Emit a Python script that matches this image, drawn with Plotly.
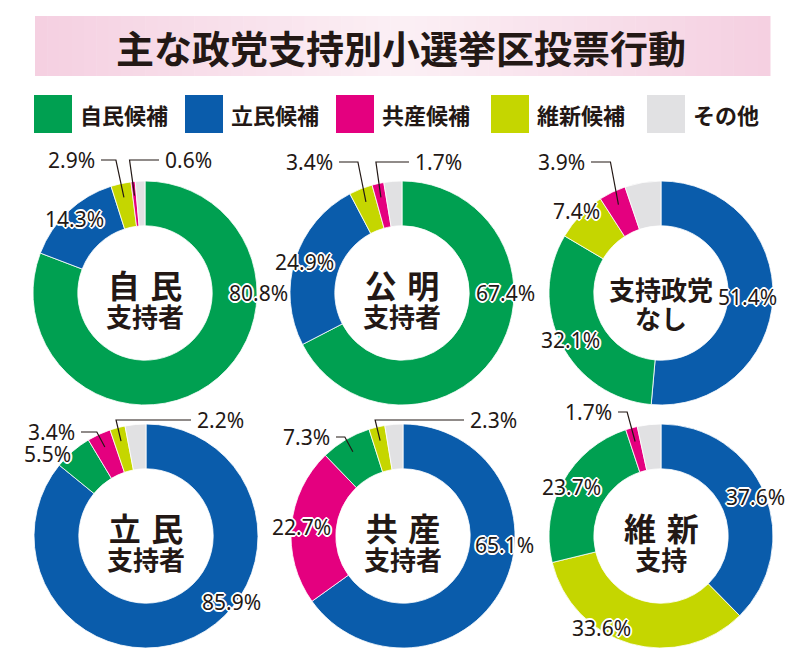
import math
import plotly.graph_objects as go

W, H = 800, 651

title = "主な政党支持別小選挙区投票行動"
parties = ["自民候補", "立民候補", "共産候補", "維新候補", "その他"]
colors = ["#00a051", "#0a5cab", "#e4007f", "#c5d600", "#e1e1e3"]

# values per supporter group, in the order of `parties`
jimin_supporters = [80.8, 14.3, 0.6, 2.9, 1.4]
komei_supporters = [67.4, 24.9, 1.7, 3.4, 2.6]
no_party = [32.1, 51.4, 3.9, 7.4, 5.2]
rikken_supporters = [5.5, 85.9, 3.4, 2.2, 3.0]
kyosan_supporters = [7.3, 65.1, 22.7, 2.3, 2.6]
ishin_supporters = [23.7, 37.6, 1.7, 33.6, 3.4]

groups = [jimin_supporters, komei_supporters, no_party,
          rikken_supporters, kyosan_supporters, ishin_supporters]
group_top = ["自\u2004民", "公\u2004明", "支持政党", "立\u2004民", "共\u2004産", "維\u2004新"]
group_bottom = ["支持者", "支持者", "なし", "支持者", "支持者", "支持"]

# ---- layout (pixels) ----
centers = [(145, 293), (402, 293), (661, 293), (146, 536), (403, 536), (661, 536)]
R = 112
HOLE = 0.6
LABEL_R = 102
# (angle, radius) tweaks for ring labels; None = computed
label_tweak = {(0, 0): (90, 113), (1, 0): (90, 104), (2, 1): (None, 87),
               (2, 3): (None, 118), (3, 1): (128, 108), (3, 0): (310, 128),
               (4, 1): (95, 102), (5, 3): (213, 110)}
# small slices labelled above the ring: text edge x, y, side of text
leaders = {(0, 3): (97, 160, "L"), (0, 2): (163, 160, "R"),
           (1, 3): (335, 162, "L"), (1, 2): (413, 162, "R"),
           (2, 2): (587, 162, "L"),
           (3, 2): (77, 432, "L"), (3, 3): (195, 420, "R"),
           (4, 0): (332, 437, "L"), (4, 3): (468, 420, "R"),
           (5, 2): (614, 412, "L")}

PCT_FONT = dict(family="Noto Sans, DejaVu Sans", size=21, color="#231815",
                shadow="2px 0 0 #fff, -2px 0 0 #fff, 0 2px 0 #fff, 0 -2px 0 #fff, "
                       "1px 1px 0 #fff, -1px -1px 0 #fff, 1px -1px 0 #fff, -1px 1px 0 #fff")
JP = "Noto Sans CJK JP"


def px(x, y):
    return x / W, 1 - y / H


def note(text, x, y, font, xanchor="center"):
    a, b = px(x, y)
    return dict(text=text, x=a, y=b, xref="paper", yref="paper", showarrow=False,
                xanchor=xanchor, yanchor="middle", font=font)


fig = go.Figure()
annotations = []
shapes = []

# title box with soft pink gradient
n_strips = 60
x0, x1, y0, y1 = 35, 770, 16, 76
for i in range(n_strips):
    t = abs((i + 0.5) / n_strips - 0.5) * 2
    r_, g_, b_ = (int(252 - 7 * t), int(240 - 32 * t), int(245 - 20 * t))
    a, b = px(x0 + (x1 - x0) * i / n_strips, y0)
    c, d = px(x0 + (x1 - x0) * (i + 1) / n_strips + 0.5, y1)
    shapes.append(dict(type="rect", xref="paper", yref="paper", x0=a, x1=c, y0=d, y1=b,
                       fillcolor=f"rgb({r_},{g_},{b_})", line_width=0, layer="below"))
annotations.append(note(title, 401, 47,
                        dict(family=JP, size=38, color="#231815", weight="bold")))

# legend
legend_x = [34, 185, 336, 491, 647]
for name, col, lx in zip(parties, colors, legend_x):
    a, b = px(lx, 95)
    c, d = px(lx + 38, 133)
    shapes.append(dict(type="rect", xref="paper", yref="paper", x0=a, x1=c, y0=d, y1=b,
                       fillcolor=col, line_width=0))
    annotations.append(note(name, lx + 44, 114,
                            dict(family=JP, size=22, color="#231815", weight="bold"),
                            xanchor="left"))

for gi, (vals, (cx, cy)) in enumerate(zip(groups, centers)):
    order = sorted(range(4), key=lambda k: -vals[k]) + [4]
    fig.add_trace(go.Pie(
        labels=[parties[k] for k in order],
        values=[vals[k] for k in order],
        marker=dict(colors=[colors[k] for k in order], line=dict(color="white", width=0.8)),
        sort=False, direction="clockwise", hole=HOLE, textinfo="none",
        showlegend=False,
        domain=dict(x=[(cx - R) / W, (cx + R) / W], y=[1 - (cy + R) / H, 1 - (cy - R) / H]),
    ))

    # percentage labels
    total = sum(vals)
    cum = 0
    for k in order:
        v = vals[k]
        mid = (cum + v / 2) / total * 360
        cum += v
        if k == 4:
            continue
        text = f"{v:.1f}%"
        if (gi, k) in leaders:
            lx, ly, side = leaders[(gi, k)]
            pxx = cx + 98 * math.sin(math.radians(mid))
            pyy = cy - 98 * math.cos(math.radians(mid))
            if side == "L":
                start, corner = lx + 4, pxx - 8
                anchor = "right"
            else:
                start, corner = lx - 4, pxx - 5
                anchor = "left"
            p0, p1, p2 = px(start, ly), px(corner, ly), px(pxx, pyy)
            shapes.append(dict(type="path", xref="paper", yref="paper",
                               path=f"M {p0[0]},{p0[1]} L {p1[0]},{p1[1]} L {p2[0]},{p2[1]}",
                               line=dict(color="#231815", width=1.2)))
            annotations.append(note(text, lx, ly, PCT_FONT, xanchor=anchor))
        else:
            ang, rad = label_tweak.get((gi, k), (None, None))
            ang = mid if ang is None else ang
            rad = LABEL_R if rad is None else rad
            lx = cx + rad * math.sin(math.radians(ang))
            ly = cy - rad * math.cos(math.radians(ang))
            annotations.append(note(text, lx, ly, PCT_FONT))

    # centre caption (two lines, tight line spacing from the small base size)
    top_size = 32 if gi != 2 else 26
    caption = (f"<span style='font-size:{top_size}px'>{group_top[gi]}</span><br>"
               f"<span style='font-size:26px'>{group_bottom[gi]}</span>")
    annotations.append(note(caption, cx, cy + (4 if gi != 2 else 10),
                            dict(family=JP, size=22, color="#231815", weight="bold")))

fig.update_layout(
    width=W, height=H,
    margin=dict(l=0, r=0, t=0, b=0),
    paper_bgcolor="white", plot_bgcolor="white",
    annotations=annotations, shapes=shapes,
)

fig.write_html("out.html", config={"displayModeBar": False},
               post_script="document.body.style.margin='0';")
